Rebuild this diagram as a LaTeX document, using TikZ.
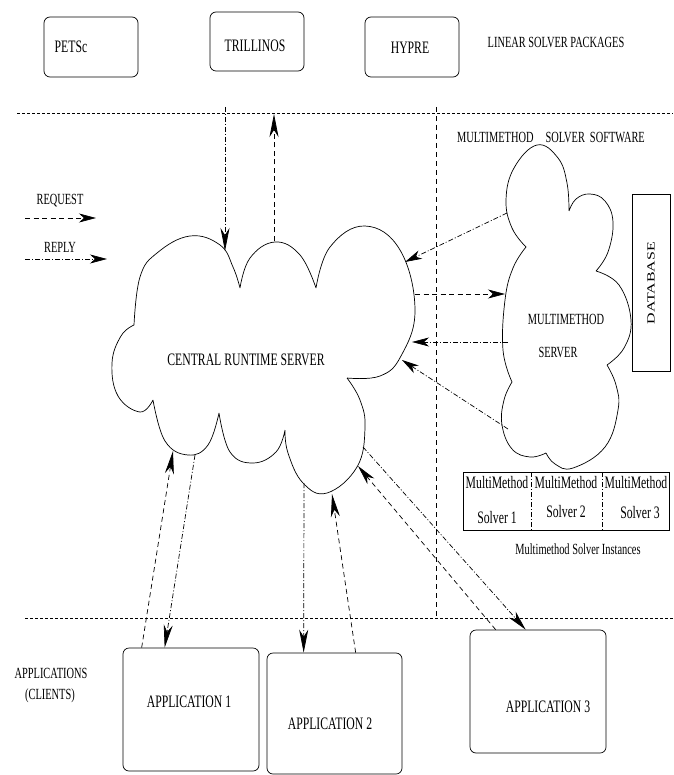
\documentclass[tikz,border=0pt]{standalone}
\usepackage{fontspec}
\setmainfont{Liberation Serif}[FakeStretch=0.67]
\newfontfamily\plainserif{Liberation Serif}
\usetikzlibrary{arrows.meta}
\begin{document}
\begin{tikzpicture}[x=1pt,y=-1pt,line width=0.7pt,
  box/.style={draw,rounded corners=6pt,inner sep=0pt},
  big/.style={font=\fontsize{17.5}{20}\selectfont,inner sep=0pt},
  mid/.style={font=\fontsize{15.5}{18}\selectfont,inner sep=0pt},
  htip/.style={-{Stealth[length=17pt,width=9pt,inset=5pt]}},
  dtip/.style={-{Stealth[length=20pt,width=9pt,inset=6pt]}},
  vtip/.style={-{Stealth[length=23pt,width=9pt,inset=7pt]}},
  req/.style={dash pattern=on 5pt off 3.5pt},
  rep/.style={dash pattern=on 5pt off 2pt on 1pt off 2pt},
  sep/.style={dash pattern=on 3pt off 2pt},
  vsep/.style={dash pattern=on 5pt off 4pt},
  lobe/.style={smooth,tension=0.7}]
\useasboundingbox (0,0) rectangle (673,775);

% ---- linear solver packages
\node[box,minimum width=94pt,minimum height=60pt] (petsc) at (91,47) {};
\node[big] (petscl) at (71,47) {PETSc};
\node[box,minimum width=94pt,minimum height=59pt] (tril) at (257,41.5) {};
\node[big] (trill) at (255,46) {TRILLINOS};
\node[box,minimum width=94pt,minimum height=60pt] (hypre) at (412,47) {};
\node[big] (hyprel) at (410,48) {HYPRE};
\node[mid] (lsp) at (556,42) {LINEAR SOLVER PACKAGES};

% ---- separators
\coordinate (tl) at (17,113); \coordinate (tr) at (673,113);
\coordinate (bl) at (25,618); \coordinate (br) at (673,618);
\coordinate (vt) at (436,107); \coordinate (vb) at (436,618);
\draw[sep] (tl) -- (tr);
\draw[sep] (bl) -- (br);
\draw[vsep] (vt) -- (vb);

% ---- legend
\node[mid] (reqt) at (60,201) {REQUEST};
\coordinate (req1) at (25,218); \coordinate (req2) at (96,218);
\draw[req,htip] (req1) -- (req2);
\node[mid] (rept) at (60,247) {REPLY};
\coordinate (rep1) at (25,259); \coordinate (rep2) at (107,259);
\draw[rep,htip] (rep1) -- (rep2);

% ---- central runtime server cloud
\draw plot[lobe] coordinates {(134,325) (140,277) (157,253) (190,236) (220,245) (233,267) (240,288)}
      plot[lobe] coordinates {(240,288) (250,258) (275,242) (300,255) (316,288)}
      plot[lobe] coordinates {(316,288) (330,247) (365,226) (400,250) (415,310) (401,356) (380,376) (347,378)}
      plot[lobe] coordinates {(347,378) (360,400) (365,428) (357,467) (327,493) (303,483) (288,453) (285,430)}
      plot[lobe] coordinates {(285,430) (276,452) (253,463) (230,452) (219,413)}
      plot[lobe] coordinates {(219,413) (208,445) (188,455) (165,441) (153,400)}
      plot[lobe] coordinates {(153,400) (140,412) (118,396) (112,363) (121,336) (134,325)};
\node[big] (crs) at (246,360) {CENTRAL RUNTIME SERVER};

% ---- multimethod cloud
\draw plot[lobe] coordinates {(526,247) (512,228) (506,200) (514,168) (537,145) (558,158) (567,183) (569,211)}
      plot[lobe] coordinates {(569,211) (576,199) (590,194) (605,201) (613,222) (608,252) (596,271)}
      plot[lobe] coordinates {(596,271) (619,285) (631,320) (624,348) (607,365)}
      plot[lobe] coordinates {(607,365) (616,385) (618,410) (605,447) (573,468) (555,464) (546,453)}
      plot[lobe] coordinates {(546,453) (530,457) (512,449) (502,425) (504,400) (512,382)}
      plot[lobe] coordinates {(512,382) (503,350) (505,300) (513,268) (526,247)};
\node[mid] (mm1) at (566,319) {MULTIMETHOD};
\node[mid] (mm2) at (558,352) {SERVER};
\node[mid] (mss) at (551,137) {MULTIMETHOD\hspace{12pt}SOLVER\hspace{5pt}SOFTWARE};

% ---- database
\node[draw,minimum width=38pt,minimum height=177pt,inner sep=0pt] (db) at (651,282.5) {};
\node[rotate=90,inner sep=0pt] (dbl) at (651,283) {\scalebox{1.45}[1]{\plainserif\fontsize{11}{13}\selectfont DATABASE}};

% ---- solver instances table
\node[draw,minimum width=206pt,minimum height=58pt,inner sep=0pt] (tab) at (566,501) {};
\coordinate (d1t) at (531,472); \coordinate (d1b) at (531,530);
\coordinate (d2t) at (602,472); \coordinate (d2b) at (602,530);
\draw[rep,line width=0.5pt] (d1t) -- (d1b);
\draw[rep,line width=0.5pt] (d2t) -- (d2b);
\node[big] (s1a) at (497,483) {MultiMethod};
\node[big] (s2a) at (566,483) {MultiMethod};
\node[big] (s3a) at (636,483) {MultiMethod};
\node[big] (s1b) at (497,518) {Solver 1};
\node[big] (s2b) at (566,512) {Solver 2};
\node[big] (s3b) at (640,513) {Solver 3};
\node[mid] (msi) at (578,549) {Multimethod Solver Instances};

% ---- applications
\node[mid] (apps) at (51,673) {APPLICATIONS};
\node[mid] (cli) at (50,696) {(CLIENTS)};
\node[box,minimum width=136pt,minimum height=123pt] (app1) at (191,709.5) {};
\node[big] (app1l) at (189,702) {APPLICATION 1};
\node[box,minimum width=135pt,minimum height=121pt] (app2) at (334.5,713.5) {};
\node[big] (app2l) at (330,724) {APPLICATION 2};
\node[box,minimum width=136pt,minimum height=123pt] (app3) at (538,691.5) {};
\node[big] (app3l) at (548,707) {APPLICATION 3};

% ---- connector points on the clouds
\coordinate (tdown) at (225,107);
\coordinate (ctop1) at (225,251);
\coordinate (ctop2) at (274,241);
\coordinate (tup) at (274,114);
\coordinate (cr1) at (405,262);
\coordinate (cr2) at (415,294);
\coordinate (cr3) at (412,342);
\coordinate (cr4) at (402,360);
\coordinate (m1) at (507,213);
\coordinate (m2) at (505,294);
\coordinate (m3) at (508,342);
\coordinate (m4) at (508,429);
\coordinate (cb1) at (173,451);
\coordinate (cb2) at (195,455);
\coordinate (cb3) at (304,483);
\coordinate (cb4) at (332,494);
\coordinate (cb5) at (363,447);
\coordinate (cb6) at (358,466);

% ---- connectors
\draw[rep,vtip] (tdown) -- (ctop1);
\draw[req,vtip] (ctop2) -- (tup);
\draw[rep,htip] (m1) -- (cr1);
\draw[req,htip] (cr2) -- (m2);
\draw[rep,htip] (m3) -- (cr3);
\draw[rep,htip] (m4) -- (cr4);
\draw[req,vtip] ([xshift=19pt]app1.north west) -- (cb1);
\draw[rep,vtip] (cb2) -- ([xshift=42pt]app1.north west);
\draw[rep,vtip] (cb3) -- ([xshift=37pt]app2.north west);
\draw[req,vtip] ([xshift=89pt]app2.north west) -- (cb4);
\draw[rep,dtip] (cb5) -- ([xshift=56pt]app3.north west);
\draw[req,dtip] ([xshift=26pt]app3.north west) -- (cb6);
\end{tikzpicture}
\end{document}
